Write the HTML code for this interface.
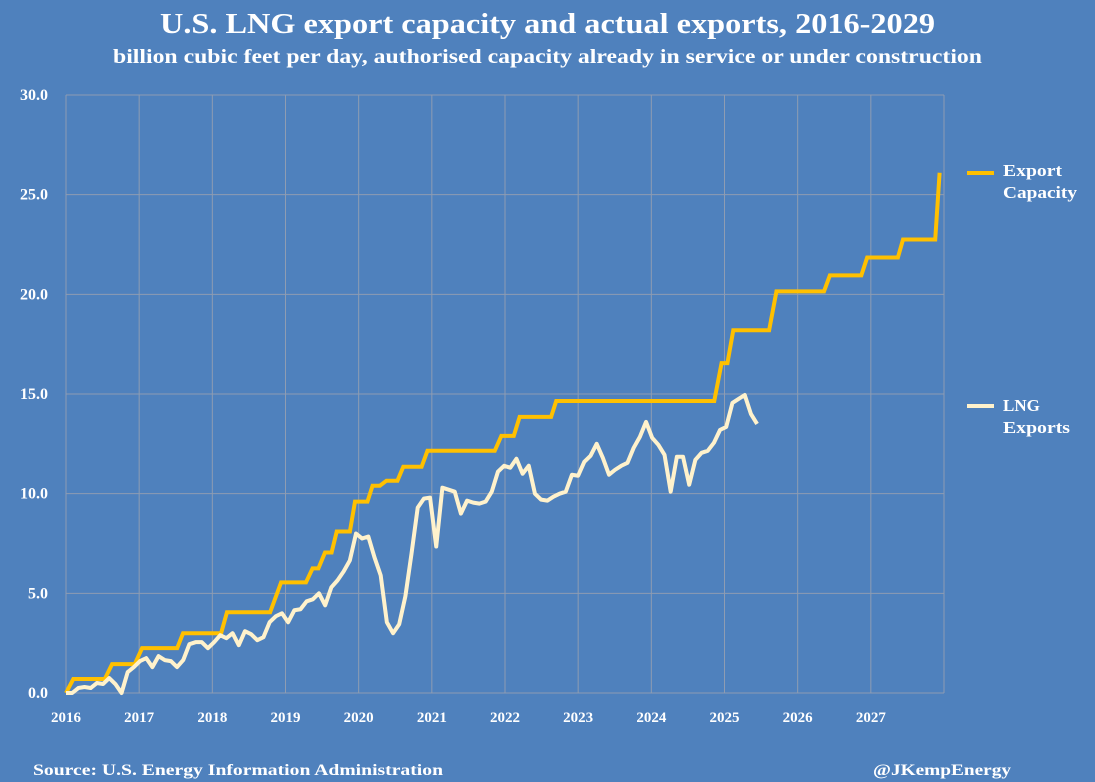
<!DOCTYPE html>
<html><head><meta charset="utf-8"><style>
html,body{margin:0;padding:0;background:#4f81bd;}
svg{display:block;font-family:"Liberation Serif",serif;font-weight:bold;}
</style></head><body>
<svg id="chart" width="1095" height="782" viewBox="0 0 1095 782" xmlns="http://www.w3.org/2000/svg">
<rect width="1095" height="782" fill="#4f81bd"/>
<text x="160" y="33" textLength="775" lengthAdjust="spacingAndGlyphs" fill="#fff" font-size="29">U.S. LNG export capacity and actual exports, 2016-2029</text>
<text x="113" y="63" textLength="869" lengthAdjust="spacingAndGlyphs" fill="#fff" font-size="20">billion cubic feet per day, authorised capacity already in service or under construction</text>
<g id="grid"></g>
<g id="axes"></g>
<g id="series"></g>
<g>
<line x1="967" y1="173" x2="994" y2="173" stroke="#ffc000" stroke-width="4"/>
<text x="1003" y="176" textLength="59" lengthAdjust="spacingAndGlyphs" fill="#fff" font-size="17">Export</text>
<text x="1003" y="198" textLength="74" lengthAdjust="spacingAndGlyphs" fill="#fff" font-size="17">Capacity</text>
<line x1="967" y1="406" x2="994" y2="406" stroke="#fff2cc" stroke-width="4"/>
<text x="1003" y="411" fill="#fff" font-size="17">LNG</text>
<text x="1003" y="433" textLength="67" lengthAdjust="spacingAndGlyphs" fill="#fff" font-size="17">Exports</text>
</g>
<text x="33" y="775" textLength="410" lengthAdjust="spacingAndGlyphs" fill="#fff" font-size="16">Source: U.S. Energy Information Administration</text>
<text x="873" y="775" textLength="138" lengthAdjust="spacingAndGlyphs" fill="#fff" font-size="16">@JKempEnergy</text>
</svg>
<script>
const yTicks = [0,5,10,15,20,25,30];
const xYears = [2016,2017,2018,2019,2020,2021,2022,2023,2024,2025,2026,2027];
// Capacity plateaus: start year, end year, value
const capStart = [2016.0,2016.10,2016.63,2017.04,2017.60,2018.20,2018.94,2019.37,2019.54,2019.70,2019.95,2020.19,2020.38,2020.61,2020.94,2021.95,2022.20,2022.70,2024.96,2025.12,2025.71,2026.44,2026.95,2027.44,2027.94];
const capEnd   = [2016.0,2016.53,2016.94,2017.52,2018.12,2018.79,2019.28,2019.45,2019.63,2019.88,2020.12,2020.29,2020.53,2020.86,2021.86,2022.12,2022.63,2024.86,2025.04,2025.61,2026.36,2026.87,2027.37,2027.88,2027.94];
const capValues= [0,0.7,1.45,2.25,3.0,4.05,5.55,6.25,7.05,8.1,9.6,10.4,10.65,11.35,12.15,12.9,13.85,14.65,16.55,18.2,20.15,20.95,21.85,22.75,26.1];
// Monthly LNG exports from Jan 2016
const expValues = [0,0,0.25,0.3,0.25,0.5,0.45,0.75,0.45,0,1.05,1.3,1.6,1.75,1.3,1.85,1.65,1.6,1.3,1.65,2.45,2.55,2.55,2.25,2.55,2.9,2.75,3.0,2.4,3.1,2.95,2.65,2.8,3.55,3.85,4.0,3.55,4.15,4.2,4.6,4.7,5.0,4.4,5.3,5.65,6.1,6.65,8.0,7.75,7.85,6.8,5.9,3.55,3.0,3.45,4.85,7.0,9.3,9.75,9.8,7.35,10.3,10.2,10.1,9.0,9.65,9.55,9.5,9.6,10.1,11.1,11.4,11.3,11.75,11.0,11.4,10.0,9.7,9.65,9.85,10.0,10.1,10.95,10.9,11.6,11.9,12.5,11.8,10.95,11.2,11.4,11.55,12.3,12.85,13.6,12.8,12.45,11.95,10.1,11.85,11.85,10.45,11.7,12.05,12.15,12.55,13.2,13.35,14.55,14.75,14.95,14.0,13.5];
const X0=66, X1=944, Y0=693, Y1=95;
const xScale = yr => X0 + (yr-2016)/12*(X1-X0);
const yScale = v => Y0 - v/30*(Y0-Y1);
const NS="http://www.w3.org/2000/svg";
const mk=(t,a,p)=>{const e=document.createElementNS(NS,t);for(const k in a)e.setAttribute(k,a[k]);p.appendChild(e);return e;};
const grid=document.getElementById('grid'), axes=document.getElementById('axes'), series=document.getElementById('series');
yTicks.forEach(v=>{
  const l=mk('line',{x1:X0,x2:X1,y1:yScale(v),y2:yScale(v),stroke:'#8e9cb2','stroke-width':1},grid);
  
  
  const t=mk('text',{x:48,y:yScale(v)+5,'text-anchor':'end',fill:'#fff','font-size':16},axes);
  t.textContent=v.toFixed(1);
  
  
});
xYears.concat([2028]).forEach(y=>{
  const l=mk('line',{x1:xScale(y),x2:xScale(y),y1:Y1,y2:Y0,stroke:'#8e9cb2','stroke-width':1},grid);
  
  
});
xYears.forEach(y=>{
  const t=mk('text',{x:xScale(y),y:722,'text-anchor':'middle',fill:'#fff','font-size':15},axes);
  t.textContent=y;
  
  
});
let capPts=[];
capValues.forEach((v,i)=>{capPts.push(xScale(capStart[i])+','+yScale(v));capPts.push(xScale(capEnd[i])+','+yScale(v));});
const cap=mk('polyline',{points:capPts.join(' '),fill:'none',stroke:'#ffc000','stroke-width':4,'stroke-linejoin':'miter'},series);


const expPts=expValues.map((v,i)=>xScale(2016+i/12*1.012)+','+yScale(v));
const ex=mk('polyline',{points:expPts.join(' '),fill:'none',stroke:'#fff2cc','stroke-width':4,'stroke-linejoin':'round'},series);


</script>
</body></html>
